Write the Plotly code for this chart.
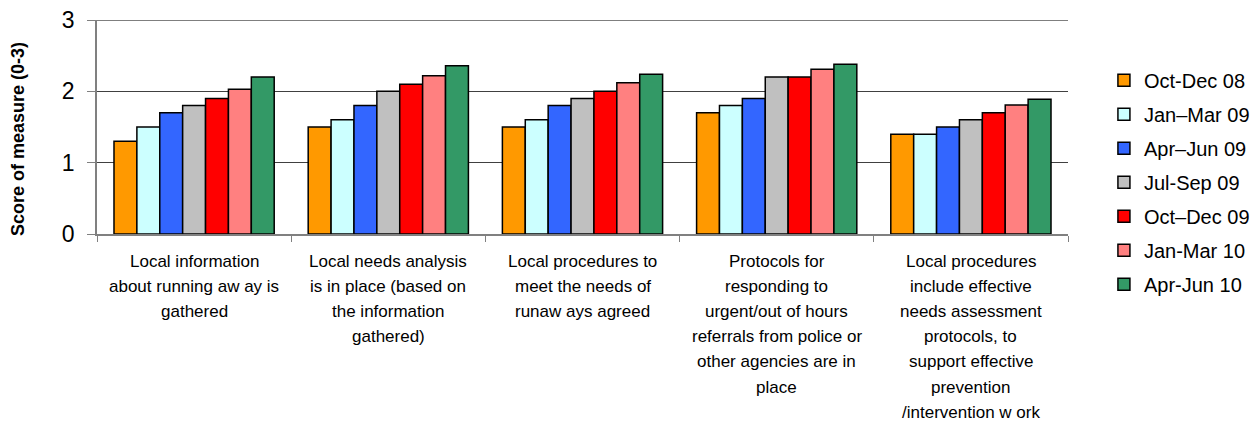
import plotly.graph_objects as go

categories = [
    "Local information<br>about running aw ay is<br>gathered",
    "Local needs analysis<br>is in place (based on<br>the information<br>gathered)",
    "Local procedures to<br>meet the needs of<br>runaw ays agreed",
    "Protocols for<br>responding to<br>urgent/out of hours<br>referrals from police or<br>other agencies are in<br>place",
    "Local procedures<br>include effective<br>needs assessment<br>protocols, to<br>support effective<br>prevention<br>/intervention w ork",
]

series_names = ["Oct-Dec 08", "Jan\u2013Mar 09", "Apr\u2013Jun 09", "Jul-Sep 09",
                "Oct\u2013Dec 09", "Jan-Mar 10", "Apr-Jun 10"]

oct_dec_08 = [1.3, 1.5, 1.5, 1.7, 1.4]
jan_mar_09 = [1.5, 1.6, 1.6, 1.8, 1.4]
apr_jun_09 = [1.7, 1.8, 1.8, 1.9, 1.5]
jul_sep_09 = [1.8, 2.0, 1.9, 2.2, 1.6]
oct_dec_09 = [1.9, 2.1, 2.0, 2.2, 1.7]
jan_mar_10 = [2.03, 2.22, 2.12, 2.31, 1.81]
apr_jun_10 = [2.2, 2.36, 2.24, 2.38, 1.89]

series_values = [oct_dec_08, jan_mar_09, apr_jun_09, jul_sep_09,
                 oct_dec_09, jan_mar_10, apr_jun_10]

colors = ["#FF9900", "#CCFFFF", "#3366FF", "#C0C0C0", "#FF0000", "#FF8080", "#339966"]

y_title = "Score of measure (0-3)"
y_ticks = [0, 1, 2, 3]

fig = go.Figure()
for name, vals, col in zip(series_names, series_values, colors):
    fig.add_trace(go.Bar(
        x=categories, y=vals, name=name, legendgroup=name,
        marker=dict(color=col, line=dict(color="#000000", width=1.5)),
    ))

font_family = "Liberation Sans, Arial, sans-serif"

annotations = [dict(
    text="<b>" + y_title + "</b>", textangle=-90,
    xref="paper", yref="paper", x=-(97 - 18) / 971, y=(234 - 139) / 214,
    xanchor="center", yanchor="middle", showarrow=False,
    font=dict(size=18, family=font_family, color="#000000"),
)]

# category labels, one annotation per line so the line spacing matches
for cat in categories:
    for i, line in enumerate(cat.split("<br>")):
        annotations.append(dict(
            text=line, xref="x", yref="paper", x=cat, y=0,
            xanchor="center", yanchor="middle", yshift=-(27 + i * 25.2),
            showarrow=False,
            font=dict(size=17, family=font_family, color="#000000"),
        ))

fig.update_layout(
    width=1259, height=423,
    margin=dict(l=97, r=191, t=20, b=189, autoexpand=False),
    paper_bgcolor="white", plot_bgcolor="white",
    barmode="group", bargap=0.175, bargroupgap=0,
    font=dict(family=font_family, color="#000000"),
    showlegend=True,
    legend=dict(
        x=1.037, xanchor="left", y=0.81, yanchor="top",
        font=dict(size=20, family=font_family, color="#000000"),
        bgcolor="rgba(0,0,0,0)", borderwidth=0,
        itemwidth=30, tracegroupgap=5, maxheight=400,
    ),
    annotations=annotations,
    shapes=[dict(type="line", xref="paper", yref="y", x0=0, x1=1,
                 y0=max(y_ticks), y1=max(y_ticks),
                 line=dict(color="#000000", width=1), layer="below")],
)

fig.update_xaxes(
    tickmode="array", tickvals=categories, ticktext=categories,
    tickson="boundaries", ticks="outside", ticklen=6, tickcolor="#808080", tickwidth=1,
    showline=True, linecolor="#808080", linewidth=1.5,
    showgrid=False, tickangle=0, automargin=False, showticklabels=False,
)

fig.update_yaxes(
    range=[0, 3], tickvals=y_ticks, ticks="outside", ticklen=8,
    tickcolor="#808080", tickwidth=1,
    showline=True, linecolor="#808080", linewidth=1.5,
    showgrid=True, gridcolor="#404040", gridwidth=1,
    automargin=False, ticklabelstandoff=8,
    tickfont=dict(size=23, family=font_family, color="#000000"),
    zeroline=False,
)

fig.write_html("out.html", post_script="document.body.style.margin='0';",
               config={"displayModeBar": False})
